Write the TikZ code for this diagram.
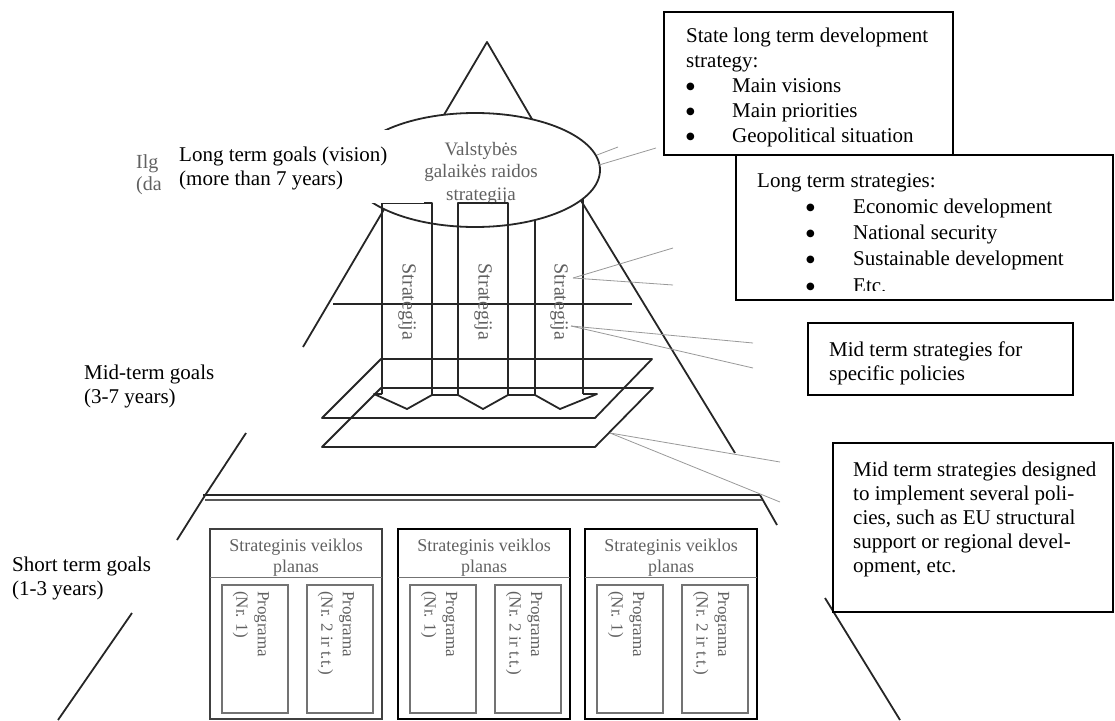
\documentclass[tikz,border=0pt]{standalone}
\usepackage{fontspec}
\setmainfont{Liberation Serif}
\newfontfamily\symfont{DejaVu Sans}
\newcommand\bul{\raisebox{3pt}{\symfont\fontsize{10}{10}\selectfont ●}}
\tikzset{
  edge/.style={line width=1.8pt, black!85, line join=round},
  leader/.style={line width=0.8pt, black!40},
  tbox/.style={draw=black, line width=1.5pt, fill=white},
  lbl/.style={anchor=north west, inner sep=0pt, align=left, font=\fontsize{21}{24}\selectfont},
  scan/.style={text=black!62, inner sep=0pt, align=center, font=\fontsize{19}{22.5}\selectfont},
  prog/.style={text=black!62, inner sep=0pt, align=left, rotate=-90, anchor=west, font=\fontsize{17}{21.5}\selectfont},
}
\begin{document}
\begin{tikzpicture}[x=1pt,y=-1pt]
    \useasboundingbox (0,0) rectangle (1115,720);
    \clip (0,0) rectangle (1115,720);

    % pyramid
    \draw[edge] (438,125) -- (487,42) -- (536,126);
    \draw[edge] (386,206) -- (303,347);
    \draw[edge] (246,433) -- (204,497) -- (177,540);
    \draw[edge] (132,613) -- (58,720);
    \draw[edge] (580,199) -- (735,453);
    \draw[edge] (760,495) -- (777,525);
    \draw[edge] (825,598) -- (900,720);
    \draw[edge] (333,304) -- (632,304);

    % third strategy column (behind the ellipse)
    \draw[edge] (535,210) -- (535,395);
    \draw[edge] (583,190) -- (583,394);

    % state strategy ellipse
    \draw[edge, fill=white] (475,170) ellipse [x radius=125, y radius=57];
    \node[scan] (state) at (481,173) {Valstybės\\galaikės raidos\\strategija};

    % strategy columns
    \draw[edge] (382,394) -- (382,203) -- (432,203) -- (432,395);
    \draw[edge] (458,395) -- (458,203) -- (508,203) -- (508,395);
    \draw[edge] (382,394) -- (374,394) -- (407,409) -- (432,395) -- (458,395) -- (483,409)
        -- (508,395) -- (535,395) -- (560,409) -- (597,394) -- (583,394);
    \foreach \cx [count=\i] in {407,483,559}
        \node[scan, rotate=-90, font=\fontsize{20}{22}\selectfont] (strat\i) at (\cx,302) {Strategija};

    % mid-term planes
    \draw[edge] (381,359) -- (652,359) -- (595,418) -- (322,418) -- cycle;
    \draw[edge] (381,388) -- (653,388) -- (595,447) -- (322,447) -- cycle;

    % short-term level
    \draw[line width=2pt, black!85] (203,495) -- (760,495);
    \draw[line width=1.2pt, black!65] (205,500) -- (762,500);
    \foreach \bx/\fr in {210/black!75, 398/black, 585/black} {
        \draw[line width=2.6pt, draw=\fr] (\bx,529) rectangle (\bx+172,719);
        \draw[black!55, line width=1pt] (\bx,577) -- (\bx+172,577);
        \node[scan, font=\fontsize{18}{21}\selectfont] (plan\bx) at (\bx+86,558) {Strateginis veiklos\\planas};
        \draw[black!55, line width=1.2pt] (\bx+12,585) rectangle (\bx+78,713);
        \draw[black!55, line width=1.2pt] (\bx+97,585) rectangle (\bx+163,713);
        \node[prog] (pa\bx) at (\bx+41,591) {Programa\\(Nr. 1)};
        \node[prog] (pb\bx) at (\bx+126,591) {Programa\\(Nr. 2 ir t.t.)};
    }

    % leaders to the notes
    \draw[leader] (597,155) -- (618,147);
    \draw[leader] (599,165) -- (656,148);
    \draw[leader] (573,278) -- (673,248);
    \draw[leader] (573,278) -- (673,285);
    \draw[leader] (571,326) -- (753,343);
    \draw[leader] (571,326) -- (753,368);
    \draw[leader] (610,433) -- (780,462);
    \draw[leader] (610,433) -- (780,502);

    % level labels
    \node[scan, anchor=base west, font=\fontsize{20}{22}\selectfont] (ilg) at (136,168) {Ilg};
    \node[scan, anchor=base west, font=\fontsize{20}{22}\selectfont] (dau) at (136,190) {(da};
    \fill[white] (161,130) rectangle (424,203);
    \node[lbl] (longgoal) at (179,144.2) {\strut Long term goals (vision)\\(more than 7 years)};
    \node[lbl] (midgoal) at (84,362.2) {\strut Mid-term goals\\(3-7 years)};
    \node[lbl] (shortgoal) at (12,554.2) {\strut Short term goals\\(1-3 years)};

    % notes
    \draw[tbox] (664,12) rectangle (953,155);
    \begin{scope}
        \clip (664,12) rectangle (953,146);
        \node[lbl, font=\fontsize{21}{25}\selectfont] (statenote) at (686,24.5)
            {\strut State long term development\\strategy:\\
             \makebox[46pt][l]{\bul}Main visions\\
             \makebox[46pt][l]{\bul}Main priorities\\
             \makebox[46pt][l]{\bul}Geopolitical situation};
    \end{scope}
    \draw[tbox] (736,155) rectangle (1113,300);
    \begin{scope}
        \clip (736,155) rectangle (1113,290);
        \node[lbl, font=\fontsize{21}{26.2}\selectfont] (longnote) at (757,168.7)
            {\strut Long term strategies:\\
             \hspace*{49pt}\makebox[47pt][l]{\bul}Economic development\\
             \hspace*{49pt}\makebox[47pt][l]{\bul}National security\\
             \hspace*{49pt}\makebox[47pt][l]{\bul}Sustainable development\\
             \hspace*{49pt}\makebox[47pt][l]{\bul}Etc.};
    \end{scope}
    \draw[tbox] (808,323) rectangle (1073,395);
    \node[lbl] (midnote) at (829,339.2) {\strut Mid term strategies for\\specific policies};
    \draw[tbox] (833,443) rectangle (1113,612);
    \node[lbl] (severalnote) at (853,459.2)
        {\strut Mid term strategies designed\\to implement several poli-\\cies, such as EU structural\\support or regional devel-\\opment, etc.};
\end{tikzpicture}
\end{document}
